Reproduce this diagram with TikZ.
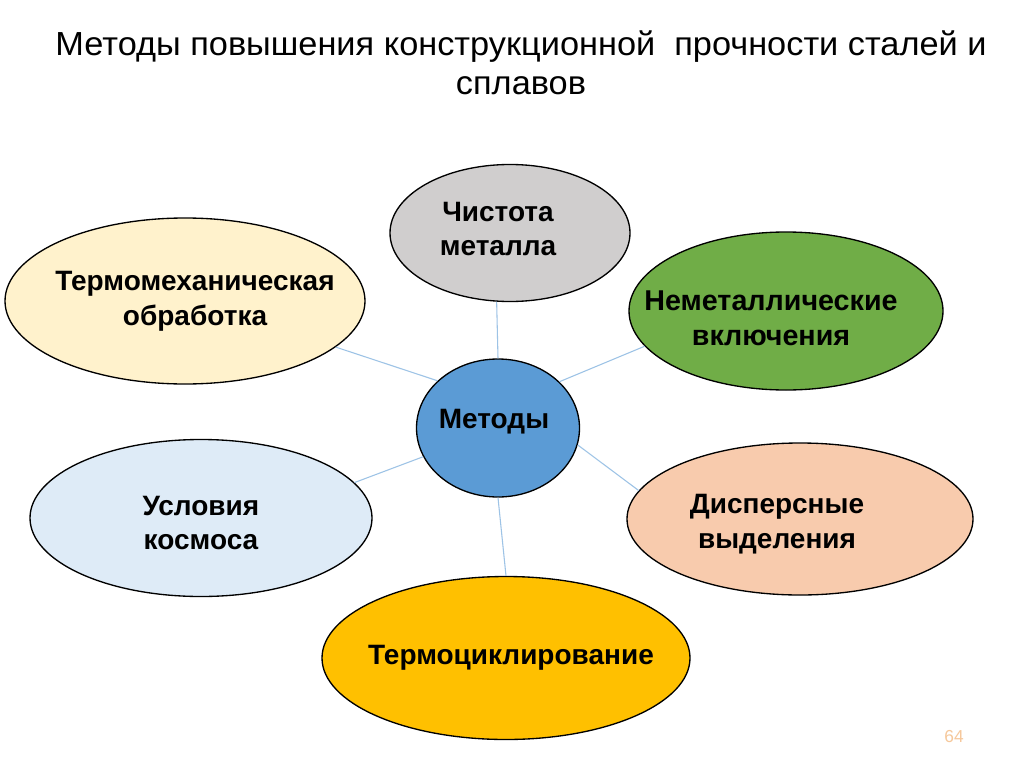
\documentclass[tikz,border=0pt]{standalone}
\usepackage{fontspec}
\setmainfont{Liberation Sans}
\newfontfamily\titlefont[FakeStretch=1.03]{Liberation Sans}
\usepackage{xcolor}
\usepackage{tikz}
\usetikzlibrary{shapes.geometric}
\definecolor{cream}{HTML}{FFF2CC}
\definecolor{metgray}{HTML}{D0CECE}
\definecolor{incgreen}{HTML}{70AD47}
\definecolor{hubblue}{HTML}{5B9BD5}
\definecolor{spacblue}{HTML}{DEEBF7}
\definecolor{peach}{HTML}{F8CBAD}
\definecolor{gold}{HTML}{FFC000}
\definecolor{linkblue}{HTML}{9DC3E6}
\definecolor{pagenum}{HTML}{F6C89B}
\newcommand{\pxu}{0.75pt}

\begin{document}
\begin{tikzpicture}[x=0.75pt,y=-0.75pt,
  meth/.style={draw=black,line width=1pt,ellipse,inner sep=0pt,fill=#1},meth/.default=white,
  lab/.style={align=center,font=\fontsize{21}{26}\selectfont\bfseries,text=black},
  link/.style={draw=linkblue,line width=0.8pt}]
  \useasboundingbox[fill=white] (0,0) rectangle (1024,767);
  \node[font=\titlefont\fontsize{25}{29}\selectfont,align=center] (title) at (521,63)
    {Методы повышения конструкционной\ \ прочности сталей и\\сплавов};
  \node[meth=cream,minimum width=360*\pxu,minimum height=166*\pxu,
    label={[lab,xshift=10*\pxu]center:Термомеханическая\\обработка}] (tmo) at (185,301) {};
  \node[meth=metgray,minimum width=240*\pxu,minimum height=137*\pxu,
    label={[lab,xshift=-12*\pxu,yshift=4*\pxu]center:Чистота\\металла}] (pur) at (510,233) {};
  \node[meth=incgreen,minimum width=314*\pxu,minimum height=158*\pxu,
    label={[lab,font=\fontsize{21.5}{26}\selectfont\bfseries,xshift=-15*\pxu,yshift=-7*\pxu]center:Неметаллические\\включения}] (inc) at (786,311) {};
  \node[meth=hubblue,minimum width=163*\pxu,minimum height=138*\pxu,
    label={[lab,xshift=-4*\pxu,yshift=6*\pxu]center:Методы}] (hub) at (498,428) {};
  \node[meth=spacblue,minimum width=342*\pxu,minimum height=157*\pxu,
    label={[lab,yshift=-5*\pxu]center:Условия\\космоса}] (spc) at (201,518) {};
  \node[meth=peach,minimum width=346*\pxu,minimum height=152*\pxu,
    label={[lab,xshift=-23*\pxu,yshift=-5*\pxu]center:Дисперсные\\выделения}] (dsp) at (800,519) {};
  \node[meth=gold,minimum width=368*\pxu,minimum height=163*\pxu,
    label={[lab,xshift=5*\pxu]center:Термоциклирование}] (tcy) at (506,658) {};
  \foreach \a/\n/\b in {142/tmo/-17,90/pur/259,37/inc/-166,-12/dsp/170,201/spc/13,-90/tcy/90}
    \draw[link] (hub.\a) -- (\n.\b);
  \node[font=\fontsize{13}{15}\selectfont,text=pagenum] (page) at (954,737) {64};
\end{tikzpicture}
\end{document}
